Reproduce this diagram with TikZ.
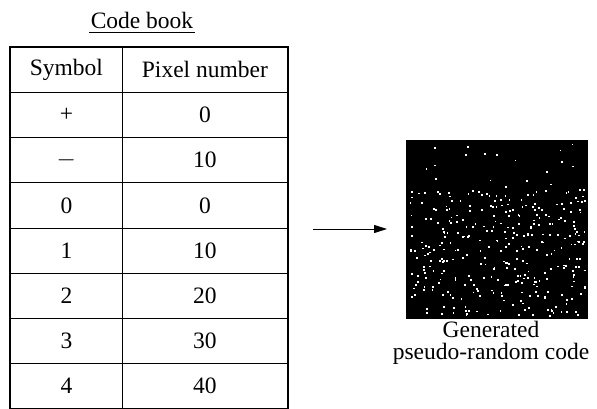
\documentclass[tikz,border=0pt]{standalone}
\usepackage{fontspec}
\setmainfont{Liberation Serif}
\usetikzlibrary{arrows.meta}
\begin{document}
\begin{tikzpicture}[x=1pt,y=-1pt,
  txt/.style={font=\fontsize{23.5}{26}\selectfont, inner sep=0pt},
  cell/.style={draw, line width=0.8pt, inner sep=0pt, anchor=north west,
    minimum height=45.125pt, font=\fontsize{23.5}{26}\selectfont},
  symcell/.style={cell, minimum width=112pt},
  pixcell/.style={cell, minimum width=165pt},
  dot/.style={fill=white, draw=none}]
\useasboundingbox (0,0) rectangle (597,409);

% title
\node[txt] (title) at (142,20) {Code book};
\draw[line width=0.8pt] (89,32) -- (195,32);

% table cells
\foreach \s/\p [count=\i from 0] in {Symbol/Pixel number, +/0, $-$/10, 0/0, 1/10, 2/20, 3/30, 4/40}{
  \node[symcell] (s\i) at (10,{47+45.125*\i}) {\s};
  \node[pixcell] (p\i) at (122,{47+45.125*\i}) {\p};
}
\draw[line width=2pt] (s0.north west) rectangle (p7.south east);

% generated code image
\node[fill=black, minimum width=182pt, minimum height=179pt, inner sep=0pt, anchor=north west] (code) at (406,140) {};
\pgfmathsetseed{4721}
\foreach \k in {1,...,24}{
  \pgfmathsetmacro{\dx}{406+3+176*rnd}
  \pgfmathsetmacro{\dy}{140+3+50*rnd}
  \fill[dot] (\dx,\dy) rectangle ++(1.8,1.8);
}
\foreach \k in {1,...,330}{
  \pgfmathsetmacro{\dx}{406+3+176*rnd}
  \pgfmathsetmacro{\dy}{190+125*rnd}
  \fill[dot] (\dx,\dy) rectangle ++(1.8,1.8);
}
\node[txt, align=center] (cap) at (491,343) {Generated\\[-4pt]pseudo-random code};

% arrow
\coordinate (src) at (313,229);
\draw[line width=1pt, -{Triangle[length=13pt,width=8pt]}, shorten >=19pt] (src) -- (src -| code.west);
\end{tikzpicture}
\end{document}
